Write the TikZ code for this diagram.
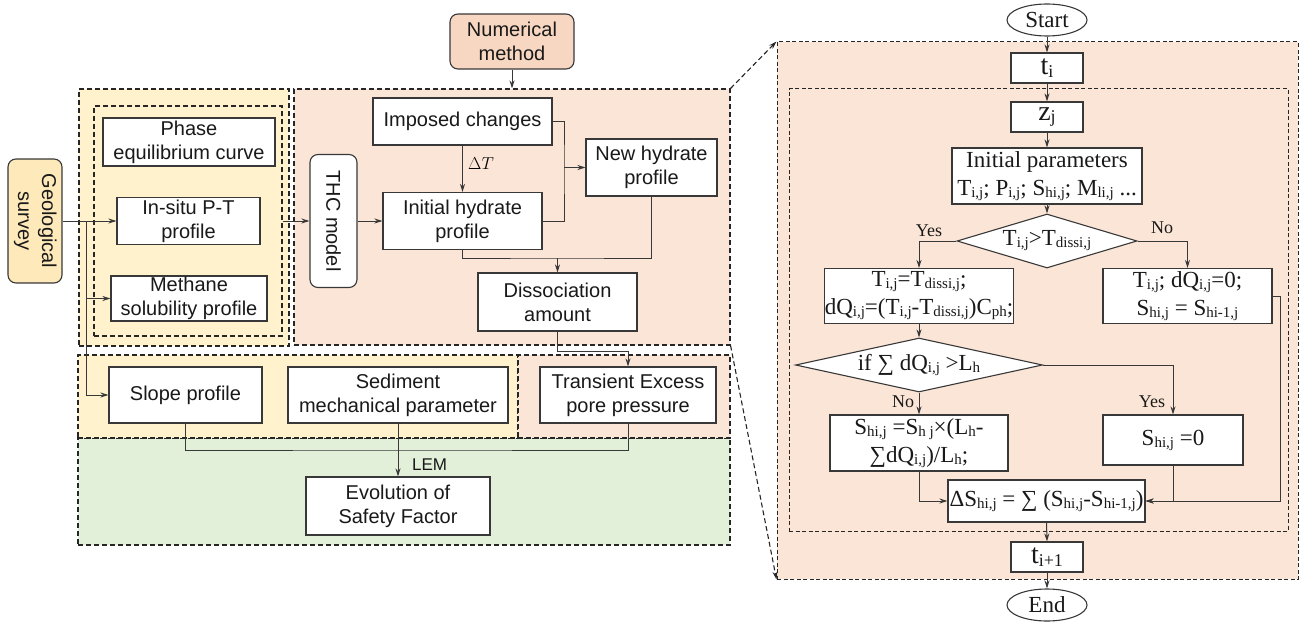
\documentclass[tikz,border=0pt]{standalone}
\usepackage{fontspec}
\setmainfont{Liberation Serif}
\newfontfamily\arialf{Liberation Sans}
\usetikzlibrary{arrows.meta,shapes.geometric}
\definecolor{yel}{HTML}{FFF2CC}
\definecolor{pch}{HTML}{FBE5D6}
\definecolor{grn}{HTML}{E2EFD9}
\definecolor{geoc}{HTML}{FDE9B9}
\definecolor{numc}{HTML}{F8D7C2}
\definecolor{bord}{HTML}{383838}
\newcommand\lsub[2][15]{\raisebox{-0.2ex}{\fontsize{#1}{#1}\selectfont #2}}
\begin{document}
\begin{tikzpicture}[x=1pt,y=-1pt,
  region/.style={draw=black!85, dash pattern=on 5pt off 3pt, line width=1.1pt, inner sep=0pt},
  rregion/.style={draw=black!85, dash pattern=on 4pt off 2.5pt, line width=1pt, inner sep=0pt},
  lbox/.style={draw=bord, fill=white, line width=1.1pt, inner sep=0pt, align=center, text=black!90, font=\arialf\fontsize{20}{24}\selectfont},
  rbox/.style={draw=bord, fill=white, line width=1.1pt, inner sep=0pt, align=center, text=black!90, font=\fontsize{23}{28}\selectfont},
  tbox/.style={rbox, minimum width=72pt, minimum height=30pt, font=\fontsize{28}{30}\selectfont},
  conn/.style={draw=bord, line width=1pt},
  arr/.style={conn, -{Stealth[length=8pt,width=5pt]}},
  callout/.style={draw=black!85, dash pattern=on 5pt off 3pt, line width=1.1pt, -{Stealth[length=8pt,width=5pt]}},
  lab/.style={font=\fontsize{18}{18}\selectfont, text=black!90, inner sep=0pt}
]
\useasboundingbox (0,0) rectangle (1305,623);

% ---------- regions ----------
\node[region, fill=yel, minimum width=210pt, minimum height=257pt] (lreg) at (184,217.5) {};
\node[region, minimum width=188pt, minimum height=230pt] (linner) at (188,221) {};
\node[region, fill=pch, minimum width=436pt, minimum height=256pt] (treg) at (512,217) {};
\node[region, fill=grn, minimum width=652pt, minimum height=107pt] (bgrn) at (404,491.5) {};
\node[region, fill=yel, minimum width=440pt, minimum height=83pt] (byel) at (298,396.5) {};
\node[region, fill=pch, minimum width=212pt, minimum height=83pt] (bpch) at (624,396.5) {};
\node[rregion, fill=pch, minimum width=521pt, minimum height=537pt] (rpanel) at (1037.5,310.5) {};
\node[rregion, minimum width=499pt, minimum height=442pt] (rinner) at (1038.5,310) {};

\draw[callout] (treg.north east) -- (rpanel.north west);
\draw[callout] (treg.south east) -- (rpanel.south west);

% ---------- left part ----------
\node[lbox, fill=geoc, rounded corners=8pt, minimum width=54pt, minimum height=124pt] (geo) at (35,221)
  {\rotatebox{-90}{\begin{tabular}{@{}c@{}}Geological\\survey\end{tabular}}};
\node[lbox, minimum width=172pt, minimum height=48pt] (phase) at (189,142) {Phase\\equilibrium curve};
\node[lbox, minimum width=143pt, minimum height=47pt] (insitu) at (188.5,221) {In-situ P-T\\profile};
\node[lbox, minimum width=156pt, minimum height=45pt] (meth) at (189,298.5) {Methane\\solubility profile};
\node[lbox, fill=numc, rounded corners=8pt, minimum width=124pt, minimum height=55pt] (num) at (512,41.5) {Numerical\\method};
\node[lbox, minimum width=179pt, minimum height=47pt] (imp) at (462.5,121.5) {Imposed changes};
\node[lbox, minimum width=131pt, minimum height=57pt] (newh) at (651.5,167.5) {New hydrate\\profile};
\node[lbox, rounded corners=8pt, minimum width=47pt, minimum height=133pt] (thc) at (333.5,221) {\rotatebox{-90}{THC model}};
\node[lbox, minimum width=159pt, minimum height=57pt] (init) at (462.5,221) {Initial hydrate\\profile};
\node[lbox, minimum width=159pt, minimum height=58pt] (diss) at (557.5,302) {Dissociation\\amount};
\node[lbox, minimum width=153pt, minimum height=56pt] (slope) at (185.5,395) {Slope profile};
\node[lbox, minimum width=220pt, minimum height=56pt] (sed) at (398,395) {Sediment\\mechanical parameter};
\node[lbox, minimum width=176pt, minimum height=56pt] (trans) at (628,395) {Transient Excess\\pore pressure};
\node[lbox, minimum width=184pt, minimum height=58pt] (evol) at (398,506) {Evolution of\\Safety Factor};

\coordinate (j0) at (86,221);
\coordinate (j1) at (564,167.5);
\coordinate (j2) at (557.5,258);
\coordinate (j3) at (398,450);
\coordinate (j4) at (557.5,351);

\draw[arr] (geo.east) -- (insitu.west);
\draw[arr] (j0) |- (meth.west);
\draw[arr] (j0) |- (slope.west);
\draw[arr] (linner.east) -- (thc.west);
\draw[arr] (thc.east) -- (init.west);
\draw[arr] (num.south) -- (num.south |- treg.north);
\draw[arr] (imp.south) -- (init.north);
\node[anchor=west, inner sep=0pt, font=\fontsize{16}{16}\selectfont] (dT) at (468,164) {$\Delta T$};
\draw[conn] (imp.east) -| (j1) |- (init.east);
\draw[arr] (j1) -- (newh.west);
\draw[conn] (init.south) |- (j2) -| (newh.south);
\draw[arr] (j2) -- (diss.north);
\draw[arr] (diss.south) -- (j4) -| (trans.north);
\draw[conn] (slope.south) |- (j3) -| (trans.south);
\draw[arr] (sed.south) -- (evol.north);
\node[anchor=west, inner sep=0pt, text=black!90, font=\arialf\fontsize{17}{17}\selectfont] (lem) at (412,465) {LEM};

% ---------- right flowchart ----------
\node[rbox, ellipse, minimum width=80pt, minimum height=32pt] (start) at (1047,20) {Start};
\node[tbox] (ti) at (1047,68) {t\lsub[18]{i}};
\node[tbox] (zj) at (1047,117) {z\lsub[18]{j}};
\node[rbox, minimum width=190pt, minimum height=56pt] (par) at (1047,176)
  {Initial parameters\\T\lsub{i,j}; P\lsub{i,j}; S\lsub{hi,j}; M\lsub{li,j} ...};
\node[rbox, diamond, aspect=3.33, minimum width=180pt, minimum height=54pt] (d1) at (1047,241)
  {T\lsub{i,j}>T\lsub{dissi,j}};
\node[rbox, minimum width=188pt, minimum height=55pt] (lb1) at (919,296)
  {T\lsub{i,j}=T\lsub{dissi,j};\\dQ\lsub{i,j}=(T\lsub{i,j}-T\lsub{dissi,j})C\lsub{ph};};
\node[rbox, minimum width=169pt, minimum height=55pt] (rb1) at (1187.5,296)
  {T\lsub{i,j}; dQ\lsub{i,j}=0;\\S\lsub{hi,j} = S\lsub{hi-1,j}};
\node[rbox, diamond, aspect=4.57, minimum width=247pt, minimum height=54pt] (d2) at (919,365)
  {if ∑ dQ\lsub{i,j} >L\lsub{h}};
\node[rbox, minimum width=178pt, minimum height=56pt] (lb2) at (919,443)
  {S\lsub{hi,j} =S\lsub{h\ j}×(L\lsub{h}-\\∑dQ\lsub{i,j})/L\lsub{h};};
\node[rbox, minimum width=140pt, minimum height=50pt] (rb2) at (1173,440) {S\lsub{hi,j} =0};
\node[rbox, minimum width=197pt, minimum height=42pt] (ds) at (1046.5,501)
  {ΔS\lsub{hi,j} = ∑ (S\lsub{hi,j}-S\lsub{hi-1,j})};
\node[tbox] (tip) at (1047,557) {t\lsub[18]{i+1}};
\node[rbox, ellipse, minimum width=80pt, minimum height=32pt] (end) at (1047,605) {End};

\node[lab] (yes1) at (929,231) {Yes};
\node[lab] (no1) at (1162,228) {No};
\node[lab] (no2) at (903,402) {No};
\node[lab] (yes2) at (1152,402) {Yes};

\coordinate (fr) at (1280,296);

\draw[arr] (start.south) -- (ti.north);
\draw[arr] (ti.south) -- (zj.north);
\draw[arr] (zj.south) -- (par.north);
\draw[arr] (par.south) -- (d1.north);
\draw[arr] (d1.west) -| (lb1.north);
\draw[arr] (d1.east) -| (rb1.north);
\draw[arr] (lb1.south) -- (d2.north);
\draw[arr] (d2.south) -- (lb2.north);
\draw[arr] (d2.east) -| (rb2.north);
\draw[arr] (lb2.south) |- (ds.west);
\draw[arr] (rb2.south) |- (ds.east);
\draw[arr] (rb1.east) -- (fr) |- (ds.east);
\draw[arr] (ds.south) -- (tip.north);
\draw[arr] (tip.south) -- (end.north);
\end{tikzpicture}
\end{document}
